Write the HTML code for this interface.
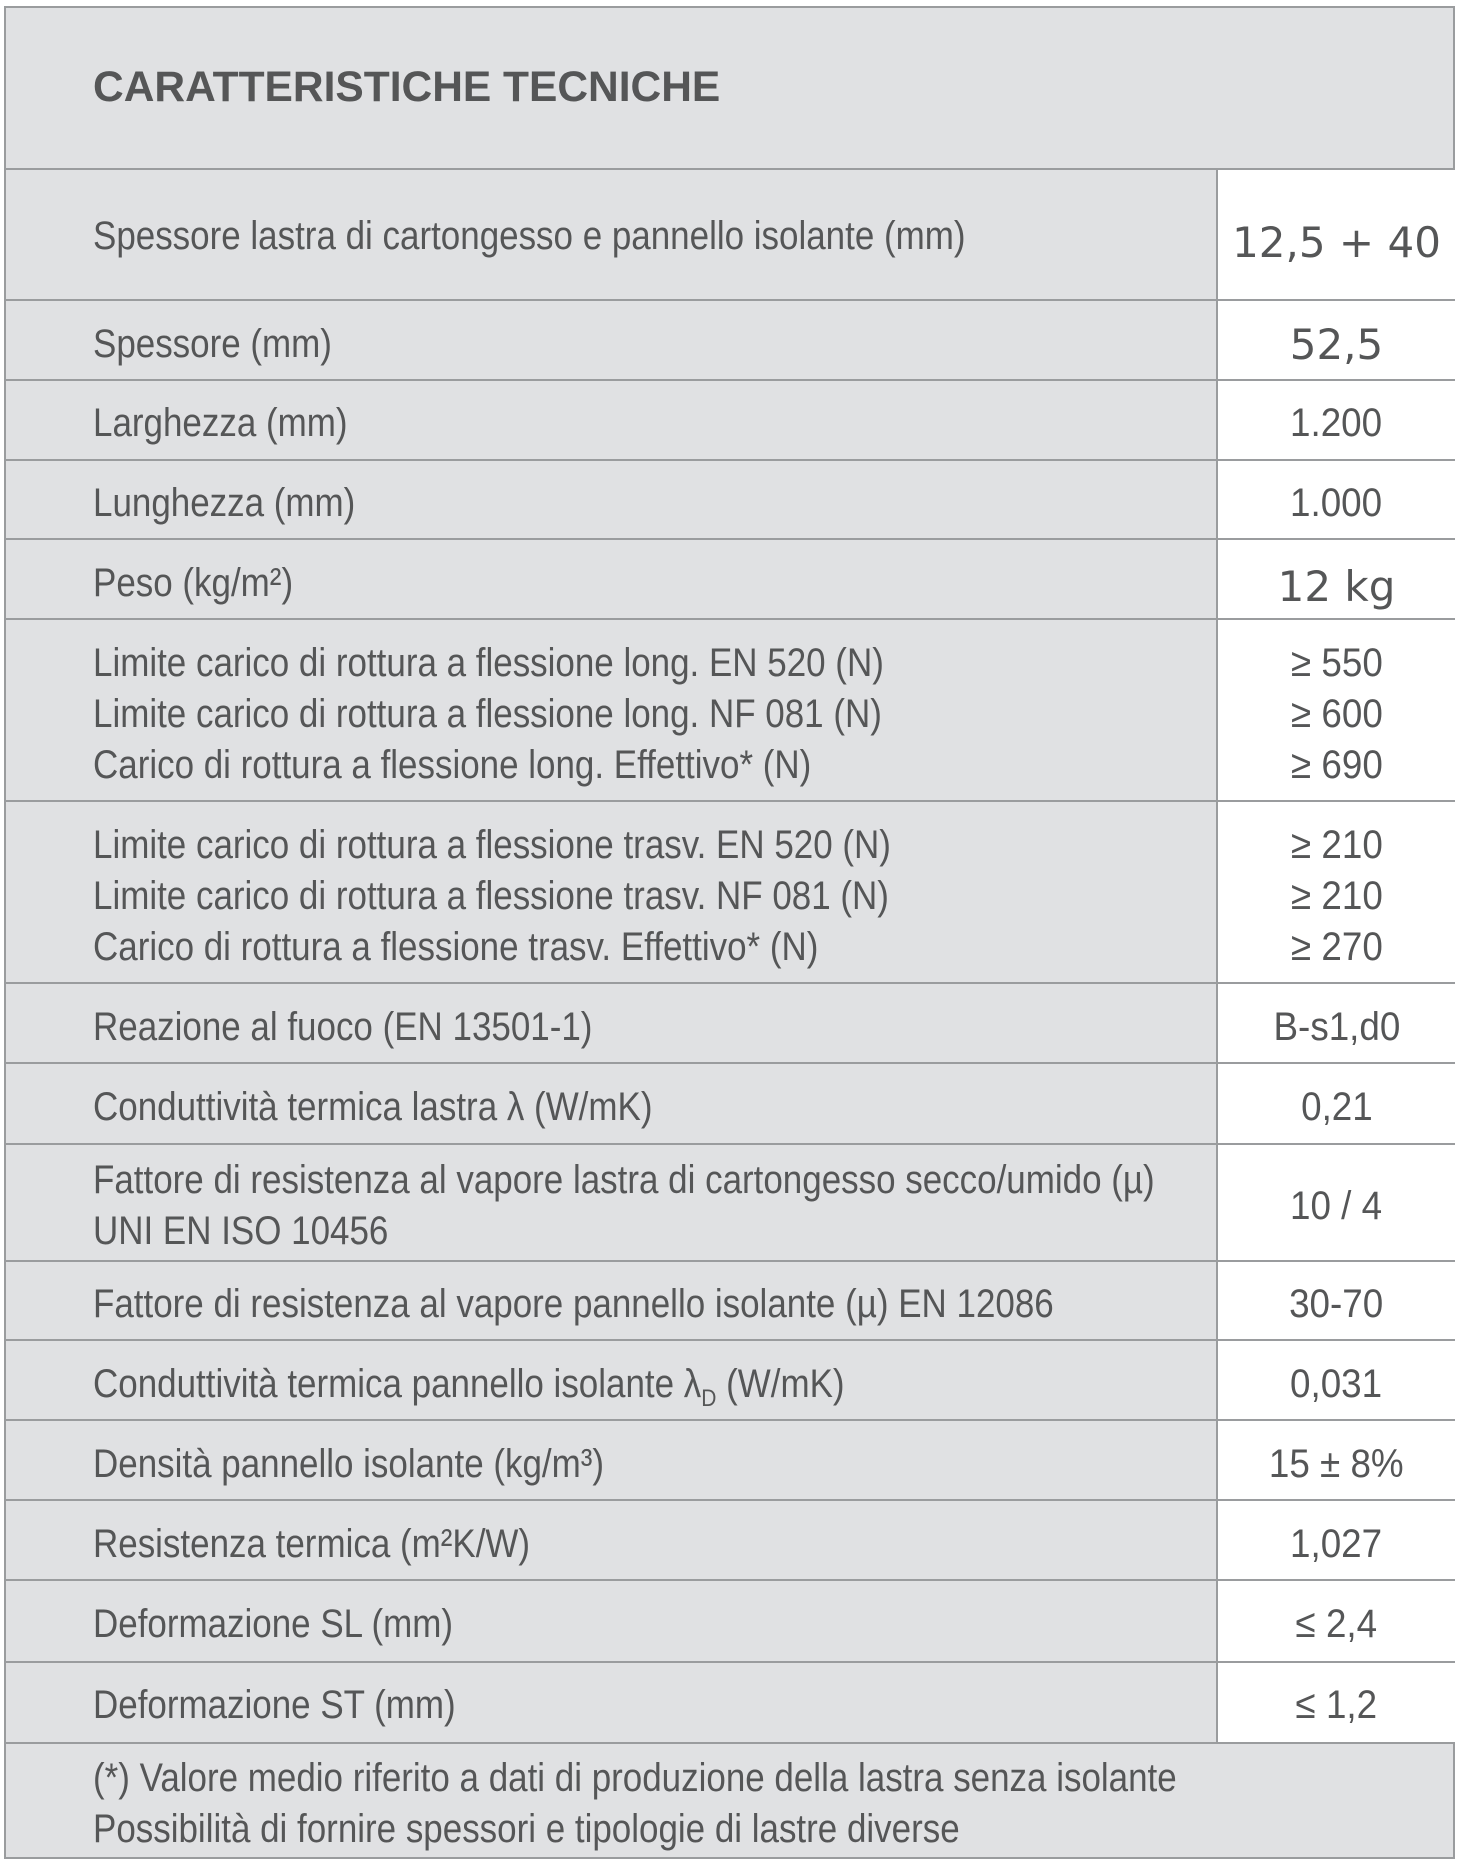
<!DOCTYPE html>
<html><head><meta charset="utf-8"><style>
body{margin:0;width:1462px;height:1870px;background:#fff;position:relative;overflow:hidden;font-family:"Liberation Sans",sans-serif;color:#555657}
.box{position:absolute;left:4px;top:6px;width:1451px;height:1853px;background:#e0e1e3;border:2px solid #9a9c9e;box-sizing:border-box}
.h{position:absolute;left:4px;width:1451px;height:2px;background:#9a9c9e}
.v{position:absolute;left:1216px;width:239px;background:#fff;border-left:2px solid #9a9c9e;box-sizing:border-box}
.l{position:absolute;left:93px;font-size:40px;line-height:51px;transform:scaleX(0.874);transform-origin:left center;white-space:nowrap;margin-top:3px}
.r{position:absolute;left:1218px;width:237px;text-align:center;font-size:40px;line-height:51px;white-space:nowrap;margin-top:3px}
.r span{display:inline-block;transform:scaleX(0.92)}
.d{font-family:"DejaVu Sans",sans-serif;font-size:42px}
.t{position:absolute;left:93px;top:64px;font-size:42.5px;font-weight:bold;line-height:48px}
</style></head><body>
<div class="box"></div>
<div class="t">CARATTERISTICHE TECNICHE</div>
<div class="v" style="top:169px;height:1574px"></div>
<div class="h" style="top:168px"></div>
<div class="h" style="top:299px"></div>
<div class="h" style="top:379px"></div>
<div class="h" style="top:459px"></div>
<div class="h" style="top:538px"></div>
<div class="h" style="top:618px"></div>
<div class="h" style="top:800px"></div>
<div class="h" style="top:982px"></div>
<div class="h" style="top:1062px"></div>
<div class="h" style="top:1143px"></div>
<div class="h" style="top:1260px"></div>
<div class="h" style="top:1339px"></div>
<div class="h" style="top:1419px"></div>
<div class="h" style="top:1499px"></div>
<div class="h" style="top:1579px"></div>
<div class="h" style="top:1661px"></div>
<div class="h" style="top:1742px"></div>

<div class="l" style="top:208px">Spessore lastra di cartongesso e pannello isolante (mm)</div>
<div class="r d" style="top:214px">12,5 + 40</div>
<div class="l" style="top:316px">Spessore (mm)</div>
<div class="r d" style="top:316px">52,5</div>
<div class="l" style="top:395px">Larghezza (mm)</div>
<div class="r" style="top:395px"><span>1.200</span></div>
<div class="l" style="top:475px">Lunghezza (mm)</div>
<div class="r" style="top:475px"><span>1.000</span></div>
<div class="l" style="top:555px">Peso (kg/m²)</div>
<div class="r d" style="top:558px">12 kg</div>
<div class="l" style="top:635px">Limite carico di rottura a flessione long. EN 520 (N)<br>Limite carico di rottura a flessione long. NF 081 (N)<br>Carico di rottura a flessione long. Effettivo* (N)</div>
<div class="r" style="top:635px"><span>≥ 550<br>≥ 600<br>≥ 690</span></div>
<div class="l" style="top:817px">Limite carico di rottura a flessione trasv. EN 520 (N)<br>Limite carico di rottura a flessione trasv. NF 081 (N)<br>Carico di rottura a flessione trasv. Effettivo* (N)</div>
<div class="r" style="top:817px"><span>≥ 210<br>≥ 210<br>≥ 270</span></div>
<div class="l" style="top:999px">Reazione al fuoco (EN 13501-1)</div>
<div class="r" style="top:999px"><span>B-s1,d0</span></div>
<div class="l" style="top:1079px">Conduttività termica lastra λ (W/mK)</div>
<div class="r" style="top:1079px"><span>0,21</span></div>
<div class="l" style="top:1152px">Fattore di resistenza al vapore lastra di cartongesso secco/umido (µ)<br>UNI EN ISO 10456</div>
<div class="r" style="top:1178px"><span>10 / 4</span></div>
<div class="l" style="top:1276px">Fattore di resistenza al vapore pannello isolante (µ) EN 12086</div>
<div class="r" style="top:1276px"><span>30-70</span></div>
<div class="l" style="top:1356px">Conduttività termica pannello isolante λ<sub style="font-size:24px">D</sub> (W/mK)</div>
<div class="r" style="top:1356px"><span>0,031</span></div>
<div class="l" style="top:1436px">Densità pannello isolante (kg/m³)</div>
<div class="r" style="top:1436px"><span>15 ± 8%</span></div>
<div class="l" style="top:1516px">Resistenza termica (m²K/W)</div>
<div class="r" style="top:1516px"><span>1,027</span></div>
<div class="l" style="top:1596px">Deformazione SL (mm)</div>
<div class="r" style="top:1596px"><span>≤ 2,4</span></div>
<div class="l" style="top:1677px">Deformazione ST (mm)</div>
<div class="r" style="top:1677px"><span>≤ 1,2</span></div>
<div class="l" style="top:1750px">(*) Valore medio riferito a dati di produzione della lastra senza isolante<br>Possibilità di fornire spessori e tipologie di lastre diverse</div>
</body></html>
